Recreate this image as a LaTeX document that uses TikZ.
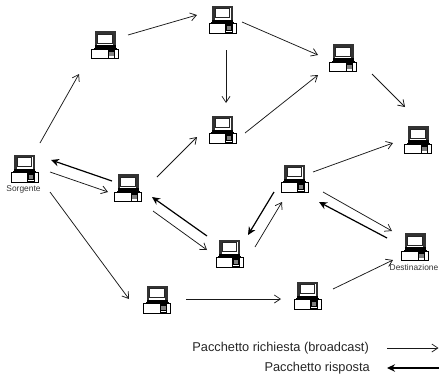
\documentclass[tikz,border=0pt]{standalone}
\usepackage{fontspec}
\setmainfont{Liberation Sans}
\usetikzlibrary{arrows.meta}
\tikzset{
  x=1pt,y=-1pt,
  hostbox/.style={inner sep=0pt,minimum width=28pt,minimum height=28pt},
  req/.style={draw=black!90,line width=0.75pt,-{Straight Barb[length=6pt,width=8pt,line width=0.75pt]}},
  rsp/.style={draw=black,line width=1.2pt,-{Stealth[length=8pt,width=7.5pt]}},
  capt/.style={font=\fontsize{8.4}{9}\selectfont,text=black!80,inner sep=0pt},
  legend/.style={font=\fontsize{12.8}{14}\selectfont,text=black!85,inner sep=0pt,anchor=east},
  computer/.pic={
    \fill[black!80] (-10.5,-14) rectangle (10.5,2.5);
    \fill[white] (-8,-11.5) rectangle (8,0);
    \draw[black!85,line width=0.7pt] (-7.2,-10.7) rectangle (7.2,-1.8);
    \fill[black] (-10.5,0) rectangle (10.5,2.5);
    \fill[black] (-11.5,2.5) rectangle (11.5,4.5);
    \draw[black,line width=1pt,fill=white] (-13.5,4) rectangle (13.5,13.5);
    \fill[black] (2.5,4) rectangle (10,13.5);
    \fill[black!50] (4,6.5) rectangle (8.5,10.5);
    \fill[white] (3.5,11) rectangle (9,12.6);
  }
}
\begin{document}
\begin{tikzpicture}
\useasboundingbox (0,0) rectangle (439,378);
\path (24.5,168.5) node[hostbox] (s) {} pic {computer};
\path (105,45) node[hostbox] (a) {} pic {computer};
\path (222.5,19.5) node[hostbox] (b) {} pic {computer};
\path (343,58) node[hostbox] (c) {} pic {computer};
\path (418,140) node[hostbox] (d) {} pic {computer};
\path (222.5,129.5) node[hostbox] (e) {} pic {computer};
\path (128,188) node[hostbox] (f) {} pic {computer};
\path (294.5,178.5) node[hostbox] (g) {} pic {computer};
\path (229.5,253.5) node[hostbox] (h) {} pic {computer};
\path (415,247) node[hostbox] (t) {} pic {computer};
\path (157,299.5) node[hostbox] (i) {} pic {computer};
\path (307.5,295.5) node[hostbox] (j) {} pic {computer};
\node[capt] (slabel) at (23.5,189.5) {Sorgente};
\node[capt] (tlabel) at (414,267.5) {Destinazione};
% request arrows
\draw[req] ([shift={(15.5,-25.5)}]s.center) -- ([shift={(-26,29)}]a.center);
\draw[req] ([shift={(23,-10)}]a.center) -- ([shift={(-25.5,-4.5)}]b.center);
\draw[req] ([shift={(19.5,2.5)}]b.center) -- ([shift={(-25,-3)}]c.center);
\draw[req] ([shift={(3.5,30.5)}]b.center) -- ([shift={(3.5,-26.5)}]e.center);
\draw[req] ([shift={(29,16)}]c.center) -- ([shift={(-13,-33)}]d.center);
\draw[req] ([shift={(22.5,3.5)}]e.center) -- ([shift={(-25,17)}]c.center);
\draw[req] ([shift={(29,-11)}]f.center) -- ([shift={(-25.5,7.5)}]e.center);
\draw[req] ([shift={(25.5,3.5)}]s.center) -- ([shift={(-20,4)}]f.center);
\draw[req] ([shift={(25.5,23.5)}]s.center) -- ([shift={(-28,-0.5)}]i.center);
\draw[req] ([shift={(29,-0.5)}]i.center) -- ([shift={(-26.5,3.5)}]j.center);
\draw[req] ([shift={(25.5,-6.5)}]j.center) -- ([shift={(-22,13)}]t.center);
\draw[req] ([shift={(18.5,-6.5)}]g.center) -- ([shift={(-25,3)}]d.center);
\draw[req] ([shift={(25,23)}]f.center) -- ([shift={(-22.5,-3.5)}]h.center);
\draw[req] ([shift={(25.5,-6.5)}]h.center) -- ([shift={(-12.5,23.5)}]g.center);
\draw[req] ([shift={(28.5,13.5)}]g.center) -- ([shift={(-23,-16)}]t.center);
% reply arrows
\draw[rsp] ([shift={(-16,-7)}]f.center) -- ([shift={(26.5,-8.5)}]s.center);
\draw[rsp] ([shift={(-22.5,-17.5)}]h.center) -- ([shift={(24,9)}]f.center);
\draw[rsp] ([shift={(-20.5,13.5)}]g.center) -- ([shift={(18.5,-18.5)}]h.center);
\draw[rsp] ([shift={(-28,-9)}]t.center) -- ([shift={(24.5,23.5)}]g.center);
% legend
\node[legend] (l1) at (369,348) {Pacchetto richiesta (broadcast)};
\node[legend] (l2) at (370,368) {Pacchetto risposta};
\coordinate (l1a) at (387,348);
\coordinate (l1b) at (438.5,348);
\coordinate (l2a) at (438.5,368);
\coordinate (l2b) at (387,368);
\draw[req] (l1a) -- (l1b);
\draw[rsp] (l2a) -- (l2b);
\end{tikzpicture}
\end{document}
